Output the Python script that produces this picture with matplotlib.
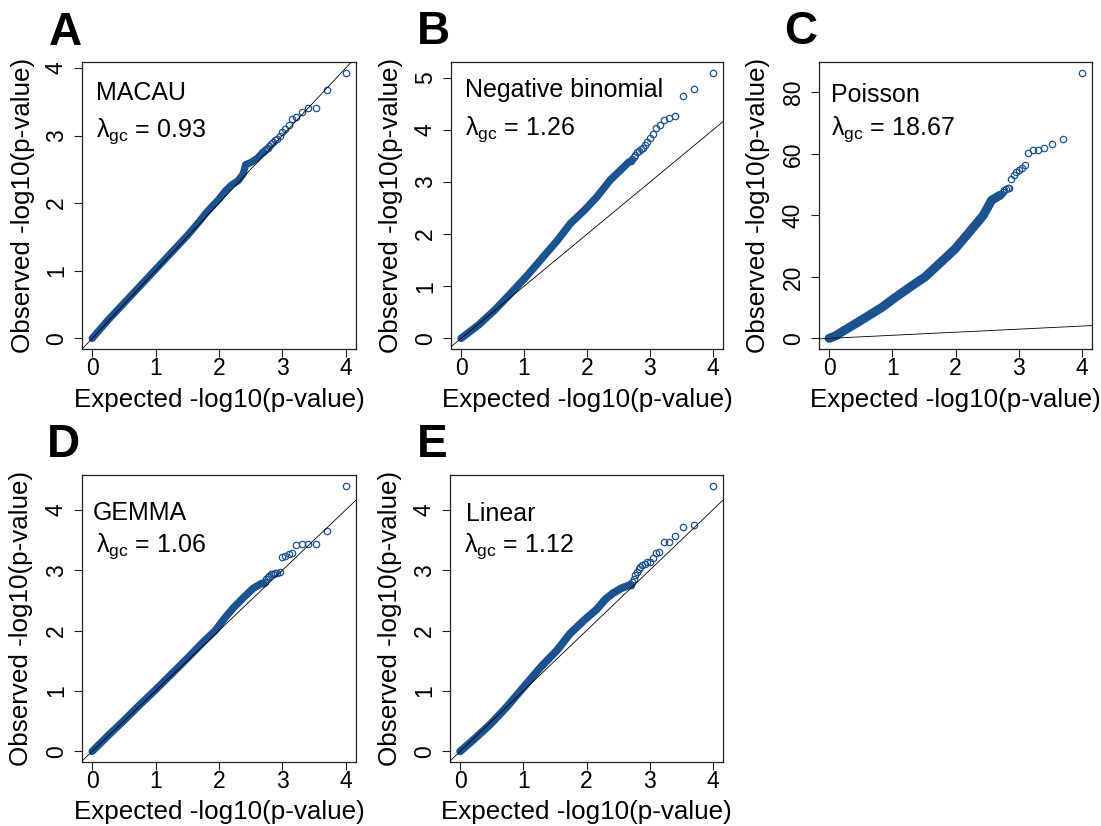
import numpy as np
import matplotlib
matplotlib.use("Agg")
import matplotlib.pyplot as plt

plt.rcParams["font.family"] = ["Liberation Sans", "DejaVu Sans"]
plt.rcParams["mathtext.fontset"] = "custom"
plt.rcParams["mathtext.rm"] = "Liberation Sans"
plt.rcParams["mathtext.it"] = "Liberation Sans:italic"
plt.rcParams["mathtext.default"] = "regular"

# ---------------------------------------------------------------- data
N_TESTS = 10000

panel_letters = ["A", "B", "C", "D", "E"]
methods = ["MACAU", "Negative binomial", "Poisson", "GEMMA", "Linear"]
lambda_gc = [0.93, 1.26, 18.67, 1.06, 1.12]
y_ticks = [[0, 1, 2, 3, 4], [0, 1, 2, 3, 4, 5], [0, 20, 40, 60, 80],
           [0, 1, 2, 3, 4], [0, 1, 2, 3, 4]]
x_ticks = [0, 1, 2, 3, 4]

# bulk of each QQ curve (expected, observed -log10 p)
macau_bulk_exp = [0.0, 0.25, 0.5, 0.75, 1.0, 1.25, 1.5, 1.7, 1.8, 1.9, 2.0,
                  2.1, 2.2, 2.3, 2.38, 2.42, 2.5, 2.6, 2.7]
macau_bulk_obs = [0.0, 0.27, 0.52, 0.77, 1.02, 1.27, 1.52, 1.74, 1.86, 1.96,
                  2.06, 2.18, 2.27, 2.33, 2.43, 2.57, 2.60, 2.66, 2.76]

negbin_bulk_exp = [0.0, 0.28, 0.54, 0.80, 1.06, 1.33, 1.53, 1.74, 1.96, 2.16,
                   2.37, 2.56, 2.66, 2.70]
negbin_bulk_obs = [0.0, 0.26, 0.55, 0.88, 1.22, 1.60, 1.88, 2.21, 2.46, 2.72,
                   3.04, 3.26, 3.38, 3.40]

poisson_bulk_exp = [0.0, 0.1, 0.2, 0.46, 0.83, 1.04, 1.36, 1.52, 1.99, 2.20,
                    2.44, 2.57, 2.70]
poisson_bulk_obs = [0.0, 0.8, 2.1, 5.3, 10.0, 13.2, 17.8, 20.0, 29.0, 34.1,
                    40.0, 44.9, 46.5]

gemma_bulk_exp = [0.0, 0.25, 0.5, 0.75, 1.0, 1.25, 1.5, 1.75, 1.94, 2.1, 2.23,
                  2.39, 2.54, 2.67, 2.70]
gemma_bulk_obs = [0.0, 0.26, 0.51, 0.77, 1.02, 1.28, 1.54, 1.81, 2.0, 2.22,
                  2.38, 2.55, 2.70, 2.78, 2.78]

linear_bulk_exp = [0.0, 0.22, 0.48, 0.75, 1.01, 1.28, 1.53, 1.74, 1.96, 2.16,
                   2.30, 2.42, 2.55, 2.70]
linear_bulk_obs = [0.0, 0.20, 0.45, 0.75, 1.07, 1.40, 1.67, 1.95, 2.17, 2.35,
                   2.52, 2.62, 2.70, 2.76]

# the 20 most significant tests of each method (rank 1 first)
macau_top_obs = [3.93, 3.68, 3.41, 3.41, 3.35, 3.27, 3.24, 3.15, 3.10, 3.05,
                 3.00, 2.95, 2.93, 2.90, 2.87, 2.85, 2.82, 2.80, 2.78, 2.76]
negbin_top_obs = [5.10, 4.78, 4.65, 4.26, 4.22, 4.19, 4.09, 4.03, 3.93, 3.85,
                  3.77, 3.71, 3.66, 3.63, 3.60, 3.58, 3.52, 3.48, 3.45, 3.40]
poisson_top_obs = [86.4, 64.7, 63.3, 61.9, 61.4, 61.1, 60.3, 56.4, 55.5, 54.9,
                   54.1, 53.0, 51.7, 49.0, 48.8, 48.5, 48.1, 47.5, 47.0, 46.5]
gemma_top_obs = [4.40, 3.65, 3.44, 3.44, 3.43, 3.41, 3.29, 3.26, 3.24, 3.22,
                 2.97, 2.96, 2.95, 2.94, 2.93, 2.91, 2.89, 2.85, 2.80, 2.78]
linear_top_obs = [4.40, 3.74, 3.71, 3.56, 3.47, 3.47, 3.30, 3.28, 3.21, 3.14,
                  3.13, 3.10, 3.08, 3.05, 3.02, 2.97, 2.92, 2.86, 2.80, 2.76]

bulk_exp = [macau_bulk_exp, negbin_bulk_exp, poisson_bulk_exp,
            gemma_bulk_exp, linear_bulk_exp]
bulk_obs = [macau_bulk_obs, negbin_bulk_obs, poisson_bulk_obs,
            gemma_bulk_obs, linear_bulk_obs]
top_obs = [macau_top_obs, negbin_top_obs, poisson_top_obs,
           gemma_top_obs, linear_top_obs]

# ---------------------------------------------------------------- layout
W, H = 1101, 826
POINT_COLOR = "#1d5290"
TICK_FS = 16.5
LABEL_FS = 18.7

# axes boxes in pixels: left, right, top, bottom
boxes = [(82, 356, 62, 349), (451, 723, 62, 349), (819, 1092, 62, 349),
         (82, 356, 475, 762), (450, 723, 475, 762)]
# centres of the axis titles in pixels (x of the y title, y of the x title)
ytitle_x = [23, 391, 758, 21, 390]
xtitle_y = [400, 400, 400, 812, 812]
letter_pos = [(49, 45), (417, 44), (784, 44), (47, 457), (417, 457)]
band_width = [5.2, 5.4, 6.5, 5.4, 5.6]
name_pos = [(0.050, 0.868), (0.050, 0.879), (0.043, 0.862),
            (0.040, 0.843), (0.060, 0.841)]
lam_pos = [(0.050, 0.740), (0.050, 0.746), (0.045, 0.746),
           (0.050, 0.733), (0.052, 0.733)]

fig = plt.figure(figsize=(W / 100, H / 100), dpi=100)

for i in range(5):
    l, r, t, b = boxes[i]
    ax = fig.add_axes([l / W, 1 - b / H, (r - l) / W, (b - t) / H])

    ax.plot(bulk_exp[i], bulk_obs[i], "-", color=POINT_COLOR, lw=band_width[i],
            solid_capstyle="round", solid_joinstyle="round", zorder=2)
    ranks = np.arange(1, len(top_obs[i]) + 1)
    top_exp = -np.log10(ranks / N_TESTS)
    ax.plot(top_exp, top_obs[i], "o", mfc="none", mec=POINT_COLOR,
            ms=4.6, mew=0.9, zorder=2)
    ax.axline((0, 0), slope=1, color="black", lw=0.6, zorder=3)

    ax.margins(x=0.04, y=0.04)
    ax.set_xticks(x_ticks)
    ax.set_yticks(y_ticks[i])
    ax.tick_params(axis="both", length=5.8, width=0.8, labelsize=TICK_FS,
                   color="#222222")
    ax.tick_params(axis="x", pad=0.3)
    ax.tick_params(axis="y", labelrotation=90, pad=4.3)
    for lab in ax.get_yticklabels():
        lab.set_va("center")
    for sp in ax.spines.values():
        sp.set_linewidth(0.9)
        sp.set_color("#222222")

    ax.set_xlabel("Expected -log10(p-value)", fontsize=LABEL_FS, va="center")
    ax.set_ylabel("Observed -log10(p-value)", fontsize=LABEL_FS, va="center")
    ax.xaxis.set_label_coords(0.5, (b - xtitle_y[i]) / (b - t))
    ax.yaxis.set_label_coords((ytitle_x[i] - l) / (r - l), 0.5)

    ax.text(name_pos[i][0], name_pos[i][1], methods[i], transform=ax.transAxes,
            fontsize=18, ha="left", va="baseline")
    ax.text(lam_pos[i][0], lam_pos[i][1],
            r"$\lambda_{gc}$ = " + f"{lambda_gc[i]:.2f}",
            transform=ax.transAxes, fontsize=18, ha="left", va="baseline")

    lx, ly = letter_pos[i]
    fig.text(lx / W, 1 - ly / H, panel_letters[i], fontsize=33,
             fontweight="bold", ha="left", va="baseline")

fig.savefig("out.png", dpi=100)
